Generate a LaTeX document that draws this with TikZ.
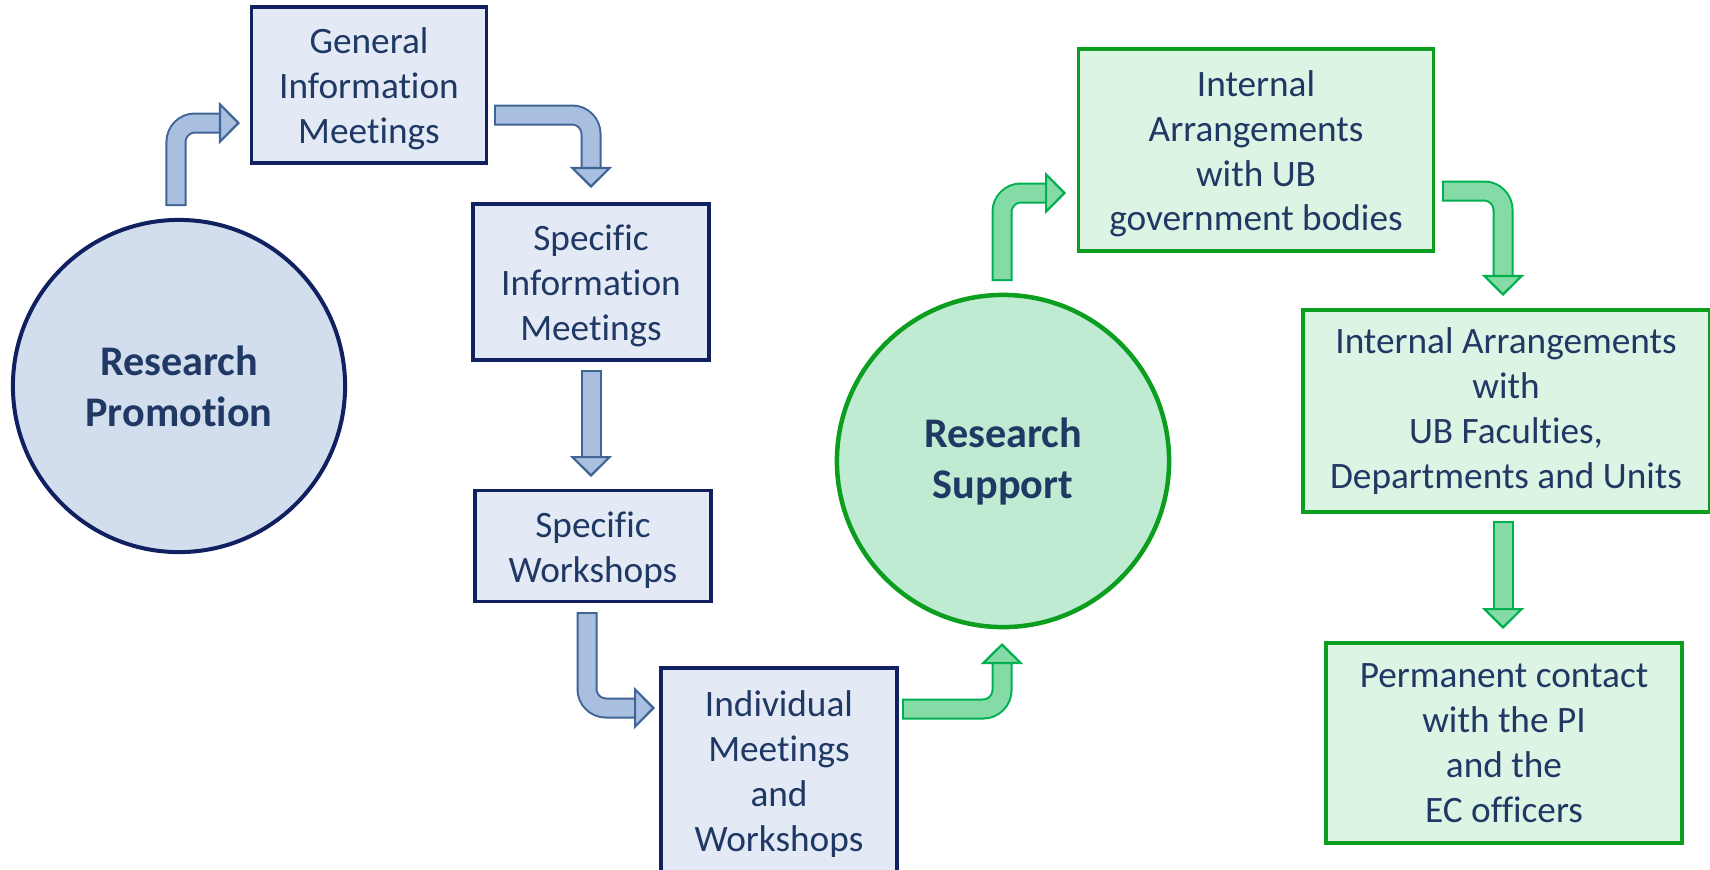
\documentclass[tikz,border=0pt]{standalone}
\usepackage{fontspec}
\setmainfont{Carlito}[Ligatures={NoCommon}]
\usetikzlibrary{arrows.meta}
\definecolor{txt}{RGB}{31,56,100}
\definecolor{navy}{RGB}{16,32,96}
\definecolor{bluebox}{RGB}{227,234,245}
\definecolor{bluecirc}{RGB}{210,222,238}
\definecolor{bluearr}{RGB}{168,191,223}
\definecolor{bluearrbd}{RGB}{65,100,150}
\definecolor{greenbd}{RGB}{12,158,30}
\definecolor{greenbox}{RGB}{220,244,228}
\definecolor{greencirc}{RGB}{192,235,211}
\definecolor{greenarr}{RGB}{133,219,166}
\definecolor{greenarrbd}{RGB}{0,176,80}
\newcommand{\toppad}{\rule{0pt}{9.6pt}}
\begin{document}
\begin{tikzpicture}[x=0.01cm,y=-0.01cm]
    \tikzstyle{every node}=[text=txt,font=\fontsize{10.6}{12.75}\selectfont,align=center,inner sep=0pt]
    \tikzstyle{bbox}=[rectangle,draw=navy,fill=bluebox,line width=0.033cm]
    \tikzstyle{gbox}=[rectangle,draw=greenbd,fill=greenbox,line width=0.033cm]
    \tikzstyle{bcirc}=[circle,draw=navy,fill=bluecirc,line width=0.04cm,minimum size=3.32cm,font=\fontsize{12}{14.5}\selectfont\bfseries]
    \tikzstyle{gcirc}=[circle,draw=greenbd,fill=greencirc,line width=0.045cm,minimum size=3.32cm,font=\fontsize{12}{14.5}\selectfont\bfseries]
    \tikzstyle{barrow}=[draw=bluearr,line width=0.17cm,rounded corners=0.19cm,
      preaction={draw=bluearrbd,line width=0.21cm,arrows=-,shorten >=0.19cm,shorten <=-0.02cm},
      -{Triangle[width=0.42cm,length=0.21cm,color=bluearrbd,fill=bluearr,line width=0.022cm]}]
    \tikzstyle{garrow}=[draw=greenarr,line width=0.17cm,rounded corners=0.19cm,
      preaction={draw=greenarrbd,line width=0.21cm,arrows=-,shorten >=0.19cm,shorten <=-0.02cm},
      -{Triangle[width=0.42cm,length=0.21cm,color=greenarrbd,fill=greenarr,line width=0.022cm]}]
    \useasboundingbox (0,0) rectangle (1710,869);
    \clip (0,0) rectangle (1710,869);

    \node[bcirc] (prom) at (179,386) {Research\\Promotion};
    \node[bbox,minimum width=2.35cm,minimum height=1.56cm] (gim) at (369,85) {\toppad General\\Information\\Meetings};
    \node[bbox,minimum width=2.36cm,minimum height=1.56cm] (sim) at (591,282) {\toppad Specific\\Information\\Meetings};
    \node[bbox,minimum width=2.36cm,minimum height=1.11cm] (sw) at (593,546) {\toppad Specific\\Workshops};
    \node[bbox,minimum width=2.36cm,minimum height=2.04cm] (imw) at (779,770) {\toppad Individual\\Meetings\\and\\Workshops};
    \node[gcirc] (supp) at (1003,461) {Research\\Support};
    \node[gbox,minimum width=3.55cm,minimum height=2.02cm] (iagb) at (1256,150) {\toppad Internal\\Arrangements\\with UB\\government bodies};
    \node[gbox,minimum width=4.06cm,minimum height=2.02cm] (iaf) at (1506,411) {Internal Arrangements\\with\\UB Faculties,\\Departments and Units};
    \node[gbox,minimum width=3.56cm,minimum height=2.0cm] (pc) at (1504,743) {Permanent contact\\with the PI\\and the\\EC officers};

    \coordinate (p1) at (176,204);  \coordinate (q1) at (240,123);
    \coordinate (p2) at (496,115);  \coordinate (q2) at (591,188);
    \coordinate (p3) at (591,372);  \coordinate (q3) at (591,477);
    \coordinate (p4) at (587,614);  \coordinate (q4) at (655,708);
    \coordinate (p5) at (904,709);  \coordinate (q5) at (1002,643);
    \coordinate (p6) at (1002,279); \coordinate (q6) at (1066,193);
    \coordinate (p7) at (1444,191); \coordinate (q7) at (1503,296);
    \coordinate (p8) at (1503,523); \coordinate (q8) at (1503,629);

    \draw[barrow] (p1) |- (q1);
    \draw[barrow] (p2) -| (q2);
    \draw[barrow] (p3) -- (q3);
    \draw[barrow] (p4) |- (q4);
    \draw[garrow] (p5) -| (q5);
    \draw[garrow] (p6) |- (q6);
    \draw[garrow] (p7) -| (q7);
    \draw[garrow] (p8) -- (q8);
\end{tikzpicture}
\end{document}
